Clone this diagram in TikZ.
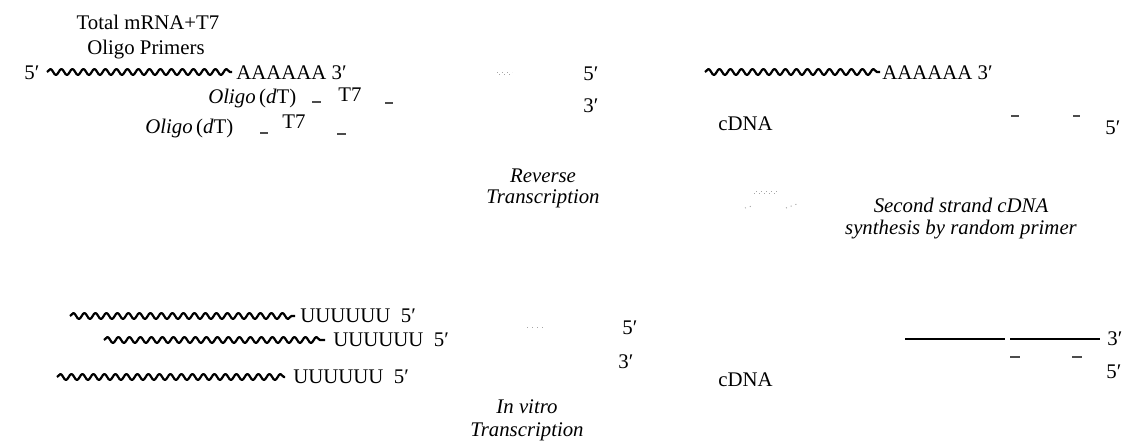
\documentclass[tikz,border=0pt]{standalone}
\usepackage{fontspec}
\setmainfont{Liberation Serif}
\usetikzlibrary{decorations.pathmorphing}
\begin{document}
\begin{tikzpicture}[x=0.5pt,y=-0.5pt,
  font=\fontsize{10.4}{12}\selectfont,
  lbl/.style={inner sep=0pt, anchor=base west},
  clbl/.style={inner sep=0pt, anchor=base},
  it/.style={inner sep=0pt, anchor=base, font=\fontsize{10.4}{12}\selectfont\itshape},
  rna/.style={line width=1.1pt, line join=round, decorate, decoration={snake, segment length=5.5pt, amplitude=1.5pt}},
  dna/.style={line width=1pt},
  tick/.style={line width=0.6pt, black!70},
  speck/.style={line width=0.5pt, black!35, dotted}]
\useasboundingbox (0,0) rectangle (1132,446);
% top left
\node[clbl] (t1) at (148,29) {Total mRNA+T7};
\node[clbl] (t2) at (146,54) {Oligo Primers};
\node[lbl] (p5a) at (24,79) {5′};
\draw[rna] (47,72) -- (232,72);
\node[lbl] (polyA1) at (236,79) {AAAAAA 3′};
\node[lbl] (od1) at (208,103) {\textit{Oligo}\,(\textit{d}T)};
\draw[tick] (312,102) -- (321,102);
\node[lbl] (t71) at (338,101) {T7};
\draw[tick] (385,103) -- (393,103);
\draw[tick] (229,103) -- (230,103);
\node[lbl] (od2) at (145,133) {\textit{Oligo}\,(\textit{d}T)};
\draw[tick] (260,133) -- (268,133);
\node[lbl] (t72) at (282,128) {T7};
\draw[tick] (337,134) -- (346,134);
\draw[speck] (497,72) -- (512,72);
\draw[speck] (499,74) -- (512,74);
\node[it] (rev1) at (543,182) {Reverse};
\node[it] (rev2) at (543,203) {Transcription};
% top right
\node[lbl] (p5b) at (583,80) {5′};
\node[lbl] (p3b) at (583,112) {3′};
\draw[rna] (705,72) -- (880,72);
\node[lbl] (polyA2) at (882,79) {AAAAAA 3′};
\node[lbl] (cdna1) at (718,130) {cDNA};
\draw[tick] (1011,116) -- (1019,116);
\draw[tick] (1073,116) -- (1080,116);
\node[lbl] (p5c) at (1105,134) {5′};
\draw[speck] (756,191) -- (780,191);
\draw[speck] (754,193) -- (778,193);
\draw[speck] (745,208) -- (752,206);
\draw[speck] (786,208) -- (797,204);
\node[it] (ss1) at (961,212) {Second strand cDNA};
\node[it] (ss2) at (961,234) {synthesis by random primer};
% bottom left
\draw[rna] (70,316) -- (295,316);
\node[lbl] (u1) at (300,322) {UUUUUU\hspace{0.5em}5′};
\draw[rna] (104,340) -- (325,340);
\node[lbl] (u2) at (333,346) {UUUUUU\hspace{0.5em}5′};
\draw[rna] (57,377) -- (285,377);
\node[lbl] (u3) at (293,383) {UUUUUU\hspace{0.5em}5′};
\draw[speck] (527,327) -- (543,327);
\node[lbl] (p5d) at (622,334) {5′};
\node[lbl] (p3d) at (618,368) {3′};
\node[it] (iv1) at (527,413) {In vitro};
\node[it] (iv2) at (527,436) {Transcription};
% bottom right
\node[lbl] (cdna2) at (718,386) {cDNA};
\draw[dna] (905,339) -- (1005,339);
\draw[dna] (1010,339) -- (1100,339);
\node[lbl] (p3e) at (1107,345) {3′};
\draw[tick] (1010,357) -- (1020,357);
\draw[tick] (1072,357) -- (1082,357);
\node[lbl] (p5e) at (1106,378) {5′};
\end{tikzpicture}
\end{document}
